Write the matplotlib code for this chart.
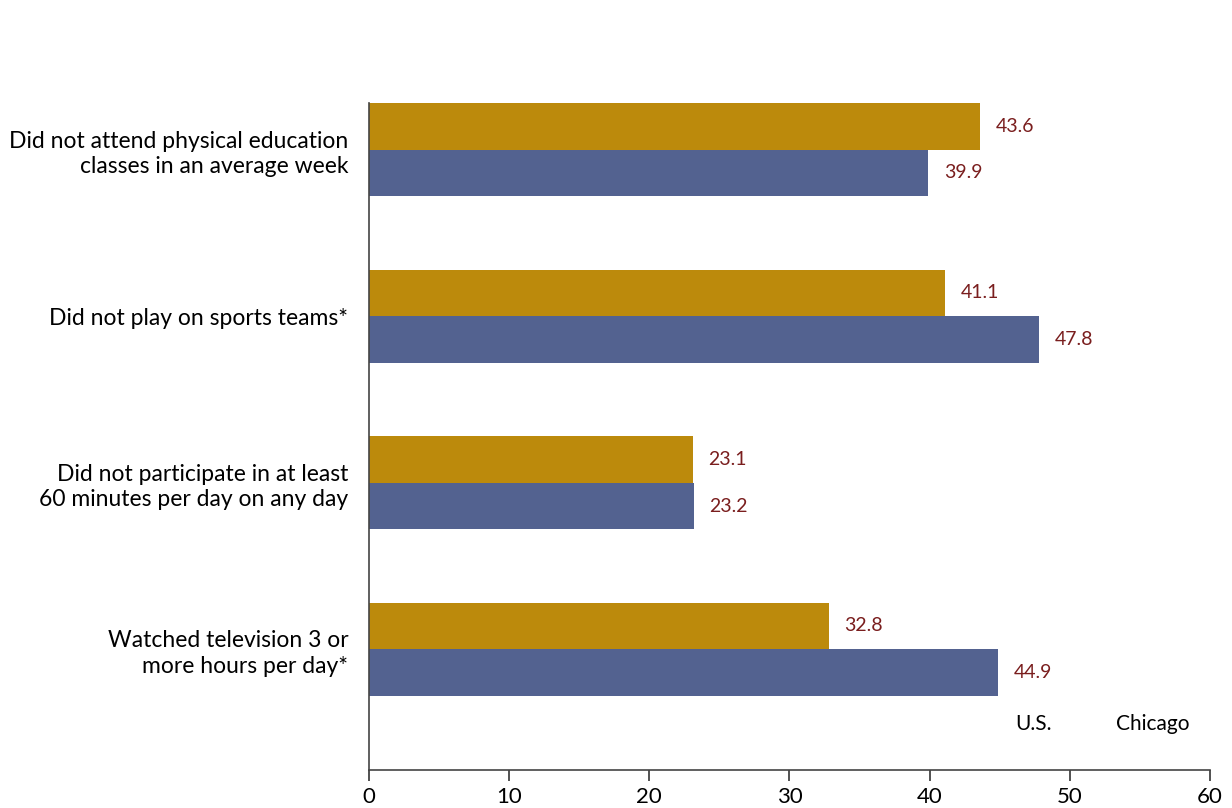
import matplotlib
matplotlib.use("Agg")
import matplotlib.pyplot as plt
import numpy as np

plt.rcParams['font.family'] = ['Lato', 'DejaVu Sans']

categorias = [
    "Did not attend physical education\nclasses in an average week",
    "Did not play on sports teams*",
    "Did not participate in at least\n60 minutes per day on any day",
    "Watched television 3 or\nmore hours per day*",
]
valores_us = [43.6, 41.1, 23.1, 32.8]
valores_chicago = [39.9, 47.8, 23.2, 44.9]
ticks_x = [0, 10, 20, 30, 40, 50, 60]

color_oro = "#BC8A0C"
color_azul = "#536290"
color_texto = "#7A1E1E"

fig = plt.figure(figsize=(12.32, 8.08), dpi=100)
ax = fig.add_axes([0.2995, 0.047, 0.6826, 0.8255])

y = np.arange(len(categorias))
alto = 0.28
ax.barh(y - alto / 2, valores_us, height=alto, color=color_oro)
ax.barh(y + alto / 2, valores_chicago, height=alto, color=color_azul)

for i in range(len(categorias)):
    ax.text(valores_us[i] + 1.1, y[i] - alto / 2, f"{valores_us[i]:.1f}",
            va="center", ha="left", color=color_texto, fontsize=14)
    ax.text(valores_chicago[i] + 1.1, y[i] + alto / 2, f"{valores_chicago[i]:.1f}",
            va="center", ha="left", color=color_texto, fontsize=14)

ax.set_ylim(3.725, -0.28)
ax.set_xlim(0, 60)
ax.set_xticks(ticks_x)
ax.set_xticklabels([str(t) for t in ticks_x], fontsize=16)
ax.set_yticks(y)
ax.set_yticklabels(categorias, fontsize=16.5, linespacing=1.25)
ax.tick_params(axis="y", length=0, pad=15)
ax.tick_params(axis="x", length=8, width=1.2, color="#333333", pad=4)

for lado in ["top", "right"]:
    ax.spines[lado].set_visible(False)
for lado in ["left", "bottom"]:
    ax.spines[lado].set_color("#444444")
    ax.spines[lado].set_linewidth(1.2)

# leyenda solo con texto, como en el original
ax.text(47.4, 3.45, "U.S.", fontsize=15, ha="center", va="center")
ax.text(55.9, 3.45, "Chicago", fontsize=15, ha="center", va="center")

fig.savefig("out.png", dpi=100)
